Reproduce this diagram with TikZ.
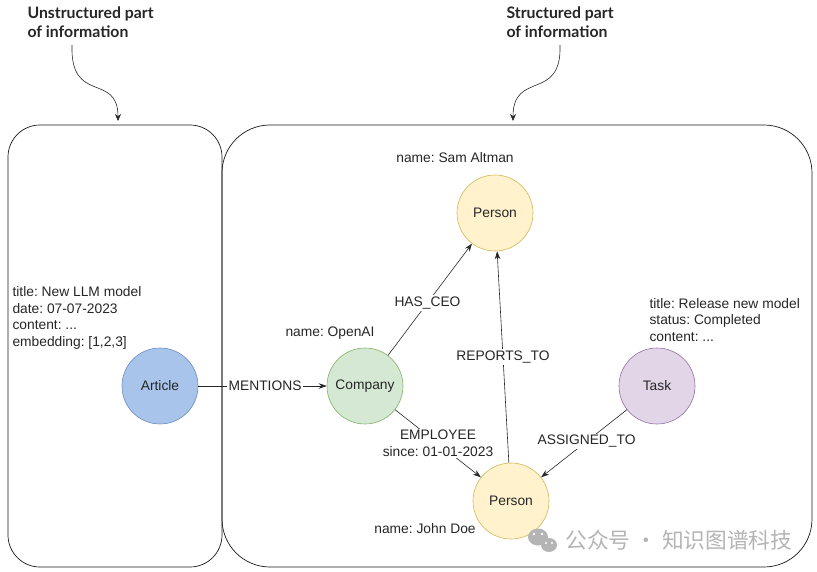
\documentclass[tikz,border=0pt]{standalone}
\usepackage{fontspec}
\setmainfont{Liberation Sans}
\newfontfamily\headfont{Lato}
\newfontfamily\cjk{Noto Sans CJK SC}
\usetikzlibrary{arrows.meta}
\frenchspacing
\definecolor{artfill}{HTML}{A9C4EB}
\definecolor{artdraw}{HTML}{6C8EBF}
\definecolor{comfill}{HTML}{D5E8D4}
\definecolor{comdraw}{HTML}{82B366}
\definecolor{perfill}{HTML}{FFF2CC}
\definecolor{perdraw}{HTML}{D6B656}
\definecolor{tskfill}{HTML}{E1D5E7}
\definecolor{tskdraw}{HTML}{9673A6}
\definecolor{wmgrey}{HTML}{B4B4B4}
\begin{document}
\begin{tikzpicture}[x=1pt,y=-1pt,
  every node/.style={font=\fontsize{13.8}{16}\selectfont, text=black!85},
  gnode/.style={circle, minimum size=76pt, inner sep=0pt, line width=0.6pt},
  rel/.style={-{Stealth[length=8pt,width=5.5pt]}, line width=0.6pt, black!85},
  rlab/.style={fill=white, inner sep=1.5pt},
  prop/.style={align=left, anchor=west, font=\fontsize{13.8}{16.7}\selectfont},
  head/.style={align=left, anchor=north west, font=\headfont\bfseries\fontsize{15.8}{19}\selectfont, text=black!85},
  curly/.style={-{Stealth[length=7pt,width=6pt]}, line width=0.6pt, black!85},
  frame/.style={draw=black!90, line width=0.7pt}
]
\useasboundingbox (0,0) rectangle (817,571);
% frames
\draw[frame, rounded corners=32pt] (8,125) rectangle (222,567);
\draw[frame, rounded corners=48pt] (222,125) rectangle (812,567);
% headings
\node[head] (hu) at (24,3) {Unstructured part\\of information};
\node[head] (hs) at (503,3) {Structured part\\of information};
\coordinate (hua) at (72,45);
\coordinate (hub) at (118,121);
\coordinate (hsa) at (560,45);
\coordinate (hsb) at (513,121);
\draw[curly] (hua) .. controls (70,105) and (118,72) .. (hub);
\draw[curly] (hsa) .. controls (562,102) and (513,70) .. (hsb);
% nodes
\node[gnode, fill=artfill, draw=artdraw] (art) at (160,386) {Article};
\node[gnode, fill=comfill, draw=comdraw] (com) at (365,386) {Company};
\node[gnode, fill=perfill, draw=perdraw] (p1) at (495,213) {Person};
\node[gnode, fill=perfill, draw=perdraw] (p2) at (511,501) {Person};
\node[gnode, fill=tskfill, draw=tskdraw] (tsk) at (657,386) {Task};
% properties
\node[prop] (artp) at (9,318) {title: New LLM model\\date: 07-07-2023\\content: ...\\embedding: [1,2,3]};
\node[prop] (tskp) at (646,320) {title: Release new model\\status: Completed\\content: ...};
\node (p1p) at (455,158) {name: Sam Altman};
\node (comp) at (330,333) {name: OpenAI};
\node (p2p) at (425,529) {name: John Doe};
% relations
\draw[rel] (art) -- node[rlab, pos=0.52] {MENTIONS} (com);
\draw[rel] (com) -- node[rlab, pos=0.47] {HAS\_CEO} (p1);
\draw[rel] (p2) -- node[rlab, pos=0.5] {REPORTS\_TO} (p1);
\draw[rel] (com) -- node[rlab, pos=0.5, align=center, font=\fontsize{13.8}{17}\selectfont] {EMPLOYEE\\since: 01-01-2023} (p2);
\draw[rel] (tsk) -- node[rlab, pos=0.47] {ASSIGNED\_TO} (p2);
% watermark
\fill[wmgrey] (538,537) ellipse (10pt and 8.5pt);
\fill[wmgrey] (549,545) ellipse (8pt and 7pt);
\fill[white] (534,534) circle (1.3pt) (542,534) circle (1.3pt) (546,543) circle (1.1pt) (552,543) circle (1.1pt);
\node[anchor=west, text=wmgrey, font=\cjk\fontsize{21.7}{24}\selectfont] (wm) at (562,540) {公众号 · 知识图谱科技};
\end{tikzpicture}
\end{document}
